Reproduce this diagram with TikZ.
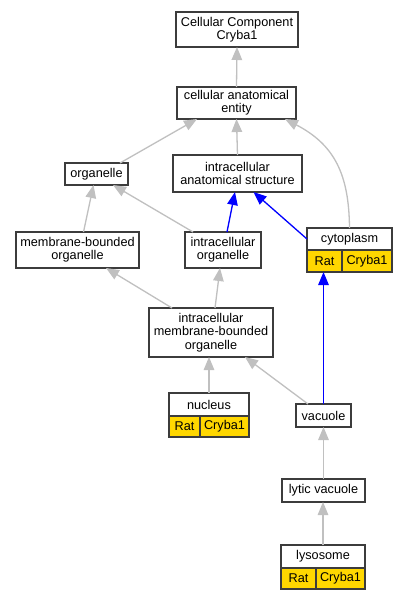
\documentclass[tikz,border=0pt]{standalone}
\usepackage{fontspec}
\setmainfont{Liberation Sans}
\usetikzlibrary{arrows.meta}
\definecolor{bord}{HTML}{3C3C3C}
\definecolor{isagray}{HTML}{C0C0C0}
\definecolor{gold}{HTML}{FFD700}
\tikzset{
  box/.style={draw=bord, line width=1.3pt, fill=white, inner sep=0pt, outer sep=0pt, align=center,
    font=\fontsize{12.7}{13.4}\selectfont},
  genebox/.style={box, fill=gold},
  isa/.style={draw=isagray, line width=1.3pt, -{Triangle[length=13pt,width=10.5pt]}, color=isagray},
  partof/.style={draw=blue, line width=1.3pt, -{Triangle[length=13pt,width=10.5pt]}, color=blue}
}
\begin{document}
\begin{tikzpicture}[x=1pt,y=-1pt]
\useasboundingbox[fill=white] (0,0) rectangle (408,600);
% nodes
\node[box, minimum width=122, minimum height=35] (top) at (237,29.5) {Cellular Component\\Cryba1};
\node[box, minimum width=119, minimum height=32] (cae) at (236.5,103) {cellular anatomical\\entity};
\node[box, minimum width=129, minimum height=37] (ias) at (237.5,173.5) {intracellular\\anatomical structure};
\node[box, minimum width=63, minimum height=22] (org) at (96.5,174) {organelle};
\node[box, minimum width=123, minimum height=36] (mbo) at (77.5,250) {membrane-bounded\\organelle};
\node[box, minimum width=76, minimum height=36] (io) at (223,250) {intracellular\\organelle};
\node[box, minimum width=85, minimum height=22] (cyto) at (349.5,239) {cytoplasm};
\node[genebox, minimum width=35, minimum height=22] (cytoR) at (324.5,261) {Rat};
\node[genebox, minimum width=50, minimum height=22] (cytoG) at (367,261) {Cryba1};
\node[box, minimum width=124, minimum height=49] (imbo) at (211,332.5) {intracellular\\membrane-bounded\\organelle};
\node[box, minimum width=80, minimum height=23] (nuc) at (209,404.5) {nucleus};
\node[genebox, minimum width=31, minimum height=21] (nucR) at (184.5,426.5) {Rat};
\node[genebox, minimum width=49, minimum height=21] (nucG) at (224.5,426.5) {Cryba1};
\node[box, minimum width=55, minimum height=23] (vac) at (323.5,415.5) {vacuole};
\node[box, minimum width=83, minimum height=23] (lv) at (323.5,490.5) {lytic vacuole};
\node[box, minimum width=84, minimum height=23] (lys) at (323,556.5) {lysosome};
\node[genebox, minimum width=35, minimum height=21] (lysR) at (298.5,578.5) {Rat};
\node[genebox, minimum width=49, minimum height=21] (lysG) at (340.5,578.5) {Cryba1};
% edges
\draw[isa] (cae.north) -- (top.south);
\draw[isa] (ias.north) -- (cae.south);
\draw[isa] ([xshift=-8]org.north east) -- ([xshift=20]cae.south west);
\draw[isa] (cyto.north) .. controls (349,175) and (335,145) .. ([xshift=-11]cae.south east);
\draw[isa] ([xshift=6]mbo.north) -- ([xshift=-3]org.south);
\draw[isa] ([xshift=8]io.north west) -- ([xshift=-15]org.south east);
\draw[partof] ([xshift=4]io.north) -- ([xshift=-2.5]ias.south);
\draw[partof] (cyto.west) -- ([xshift=16]ias.south);
\draw[isa] ([xshift=23]imbo.north west) -- ([xshift=-33]mbo.south east);
\draw[isa] ([xshift=4]imbo.north) -- ([xshift=-3]io.south);
\draw[isa] (nuc.north) -- (nuc.north |- imbo.south);
\draw[isa] ([xshift=12]vac.north west) -- ([xshift=-28]imbo.south east);
\draw[partof] (vac.north) -- (vac.north |- cytoR.south);
\draw[isa] (lv.north) -- (vac.south);
\draw[isa] (lys.north) -- (lys.north |- lv.south);
\end{tikzpicture}
\end{document}
